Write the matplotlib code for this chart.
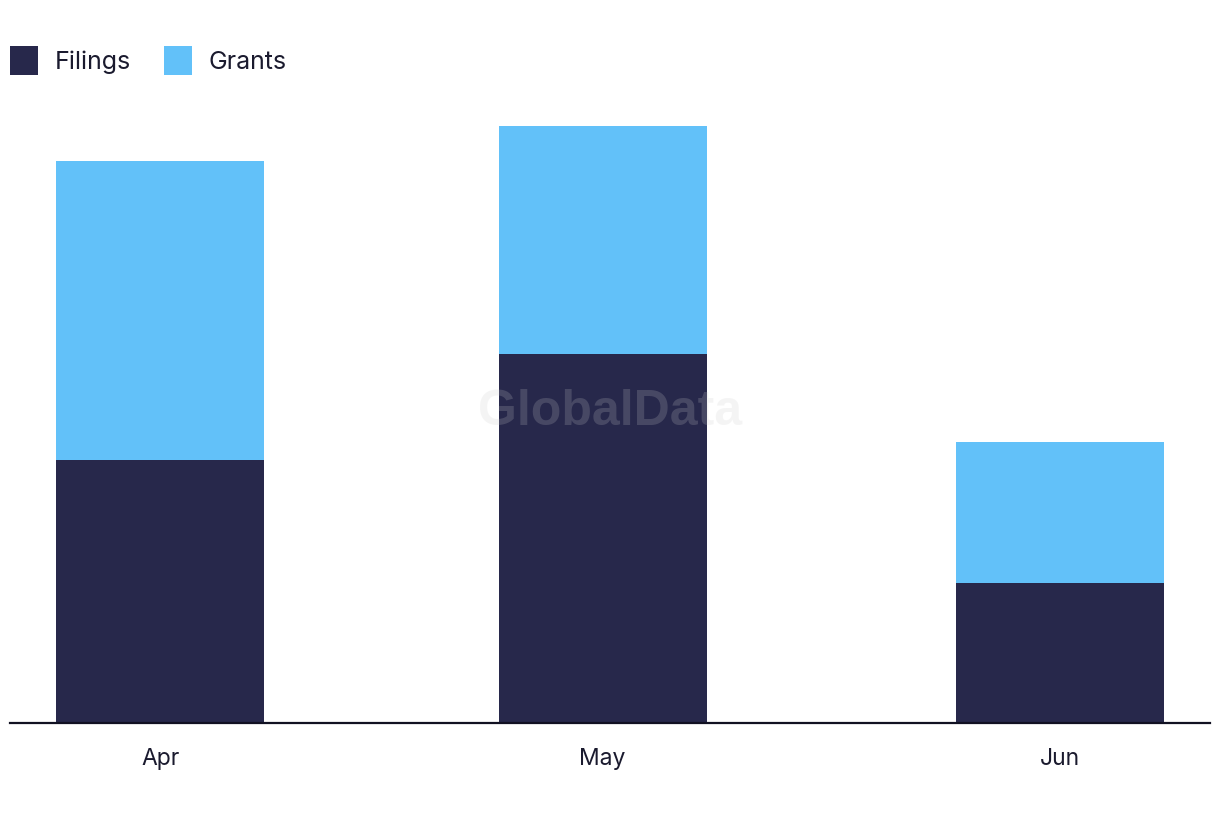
import datetime as dt
import matplotlib
matplotlib.use("Agg")
import matplotlib.pyplot as plt
import matplotlib.dates as mdates

months = ["Apr", "May", "Jun"]
month_dates = [dt.date(2023, 4, 1), dt.date(2023, 5, 1), dt.date(2023, 6, 1)]
filings = [45, 63, 24]
grants = [51, 39, 24]

navy = "#27284b"
blue = "#62c1f9"

plt.rcParams["font.family"] = ["Inter", "DejaVu Sans"]

fig = plt.figure(figsize=(12.2, 8.22), dpi=100)
ax = fig.add_axes([10 / 1220, 99 / 822, 1200 / 1220, 623 / 822])

x = mdates.date2num(month_dates)
width = 14.1
ax.bar(x, filings, width=width, color=navy, label="Filings", zorder=2)
ax.bar(x, grants, width=width, bottom=filings, color=blue, label="Grants", zorder=2)

ax.set_xlim(x[0] - 10.2, x[-1] + 10.2)
ax.set_ylim(0, 623 / 5.85)

ax.set_xticks(x)
ax.set_xticklabels(months, fontsize=16.5, color="#1a1a2e")
ax.tick_params(axis="x", length=0, pad=18)
ax.set_yticks([])
for s in ["top", "right", "left"]:
    ax.spines[s].set_visible(False)
ax.spines["bottom"].set_color("#111122")
ax.spines["bottom"].set_linewidth(1.6)
ax.spines["bottom"].set_zorder(3)

# watermark
ax.text(0.5, 0.5, "GlobalData", transform=ax.transAxes, ha="center", va="center",
        fontsize=36, fontweight="bold", color=(0.8, 0.8, 0.8), alpha=0.2,
        family=["Liberation Sans", "DejaVu Sans"], zorder=4)

fig.legend(loc="upper left", bbox_to_anchor=(10 / 1220, 1 - 46 / 822), ncol=2,
           frameon=False, fontsize=18, handlelength=1.12, handleheight=1.38,
           handletextpad=0.68, columnspacing=1.3, borderpad=0, borderaxespad=0,
           labelcolor="#1a1a2e")

fig.savefig("out.png", dpi=100)
